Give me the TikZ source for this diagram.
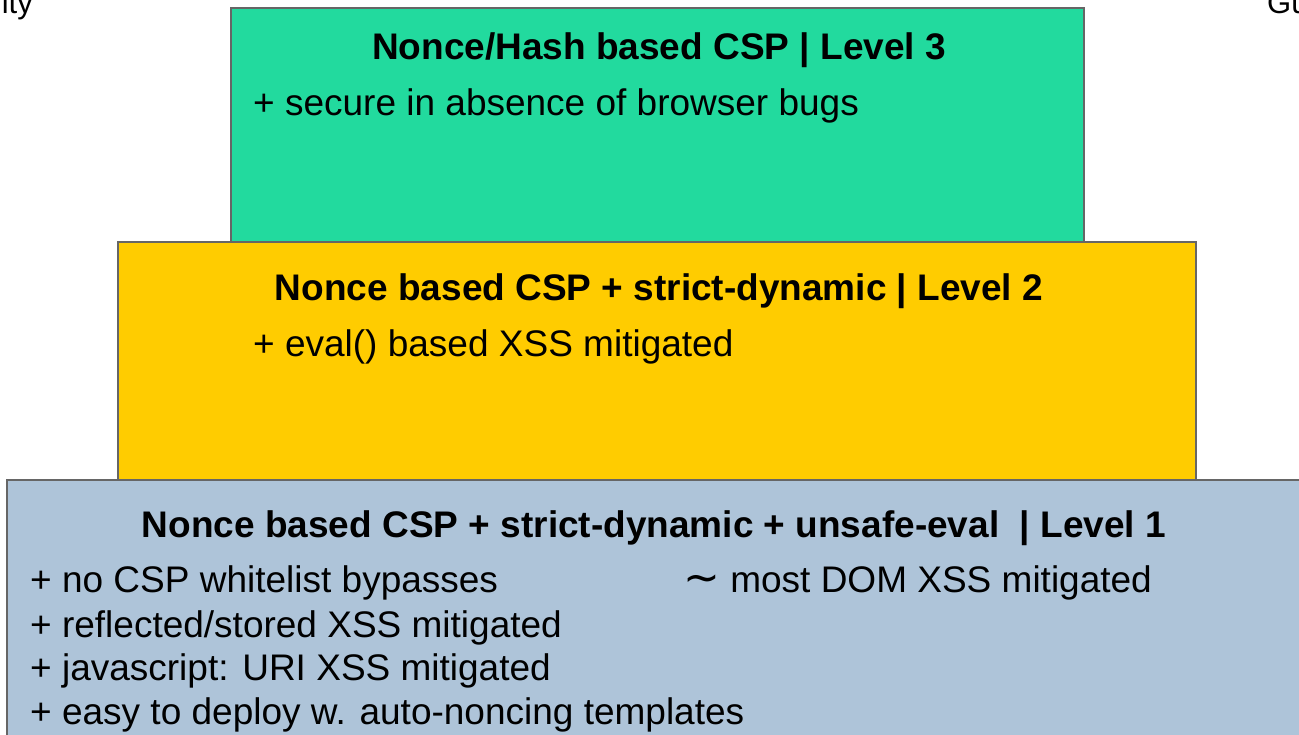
\documentclass[tikz,border=0pt]{standalone}
\usepackage{fontspec}
\setmainfont{Liberation Sans}
\newfontfamily\symfont{DejaVu Sans}
\definecolor{greenbox}{HTML}{22DA9E}
\definecolor{yellowbox}{HTML}{FFCC00}
\definecolor{bluebox}{HTML}{AEC4D9}
\definecolor{edgegray}{HTML}{666666}
\tikzset{
  layer/.style={draw=edgegray, line width=1.6pt},
  titletext/.style={font=\fontsize{37}{44}\selectfont\bfseries, inner sep=0pt, anchor=base},
  bodytext/.style={font=\fontsize{37}{44}\selectfont, inner sep=0pt, anchor=base west},
  edgetext/.style={font=\fontsize{31}{36}\selectfont, inner sep=0pt, anchor=base west},
}
\begin{document}
\begin{tikzpicture}[x=1pt,y=-1pt]
\useasboundingbox (0,0) rectangle (1299,734);
% layers
\draw[layer, fill=greenbox] (231,8) rectangle (1084,242);
\draw[layer, fill=yellowbox] (118,242) rectangle (1196,480);
\draw[layer, fill=bluebox] (7,480) rectangle (1310,745);
% cut-off page texts
\node[edgetext, anchor=base east] (ity) at (33,13) {ity};
\node[edgetext] (gu) at (1267,13) {Gu};
% level 3
\node[titletext] (t3) at (659,59) {Nonce/Hash based CSP | Level 3};
\node[bodytext] (l3a) at (253,115) {+ secure in absence of browser bugs};
% level 2
\node[titletext] (t2) at (659,300) {Nonce based CSP + strict-dynamic | Level 2};
\node[bodytext] (l2a) at (253,356) {+ eval() based XSS mitigated};
% level 1
\node[titletext] (t1) at (654,537) {Nonce based CSP + strict-dynamic + unsafe-eval\ \ | Level 1};
\node[bodytext] (l1a) at (30,592) {+ no CSP whitelist bypasses};
\node[bodytext] (l1b) at (30,637) {+ reflected/stored XSS mitigated};
\node[bodytext] (l1c) at (30,680) {+ javascript: URI XSS mitigated};
\node[bodytext] (l1d) at (30,724) {+ easy to deploy w. auto-noncing templates};
\node[bodytext] (l1e) at (683,592) {{\symfont\fontsize{44}{44}\selectfont ∼}\ most DOM XSS mitigated};
\end{tikzpicture}
\end{document}
